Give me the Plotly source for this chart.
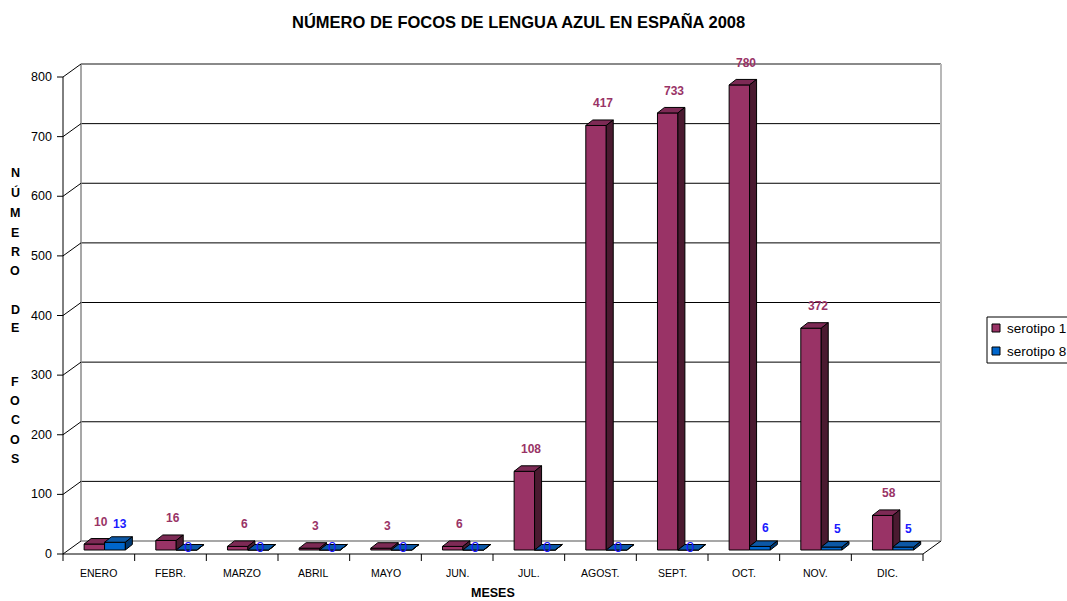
import plotly.graph_objects as go

# ---------------- data ----------------
months = ["ENERO", "FEBR.", "MARZO", "ABRIL", "MAYO", "JUN.", "JUL.",
          "AGOST.", "SEPT.", "OCT.", "NOV.", "DIC."]
serotipo1 = [10, 16, 6, 3, 3, 6, 132, 712, 733, 780, 372, 58]      # bar heights as drawn
serotipo8 = [13, 0, 0, 0, 0, 0, 0, 0, 0, 6, 5, 5]
labels1 = ["10", "16", "6", "3", "3", "6", "108", "417", "733", "780", "372", "58"]
labels8 = ["13", "0", "0", "0", "0", "0", "0", "0", "0", "6", "5", "5"]
y_ticks = [0, 100, 200, 300, 400, 500, 600, 700, 800]
series_names = ["serotipo 1", "serotipo 8"]

# ---------------- styling / geometry ----------------
FIG_W, FIG_H = 1067, 601
PX_X0 = 63.0          # pixel of left edge of first category (front)
W = 71.667            # pixels per category
PX_Y0 = 554.0         # pixel of value 0 (front)
S = 0.59625           # pixels per unit
DX = 18 / W           # back wall horizontal shift (data units)
B = 13 / S            # back wall vertical shift
B0 = 4 / S            # bar base (bars sit mid-depth)
DDX = 7 / W           # bar depth x
DDY = 5.5 / S         # bar depth y
R_OFF, R_W = -0.205, 0.285
B_OFF, B_W = 0.08, 0.29

RED, RED_TOP, RED_SIDE = "#993366", "#7d2a55", "#4a1a30"
BLU, BLU_TOP, BLU_SIDE = "#0066cc", "#0c58a6", "#003a75"
FONT = "Liberation Sans, Arial, sans-serif"

x_range = [-0.5 - PX_X0 / W, -0.5 + (FIG_W - PX_X0) / W]
y_range = [-(FIG_H - PX_Y0) / S, PX_Y0 / S]

n = len(months)
xs = list(range(n))

fig = go.Figure()

# front faces
fig.add_trace(go.Bar(x=xs, y=serotipo1, base=B0, offset=R_OFF, width=R_W,
                     marker=dict(color=RED, line=dict(color="black", width=1)),
                     name=series_names[0], showlegend=False, hoverinfo="skip"))
fig.add_trace(go.Bar(x=xs, y=serotipo8, base=B0, offset=B_OFF, width=B_W,
                     marker=dict(color=BLU, line=dict(color="black", width=1)),
                     name=series_names[1], showlegend=False, hoverinfo="skip"))

# top & side faces (computed from the data)
def poly_add(px, py, pts):
    for (a, b) in pts:
        px.append(a)
        py.append(b)
    px.append(pts[0][0]); py.append(pts[0][1])
    px.append(None); py.append(None)

rt_x, rt_y, rs_x, rs_y, bt_x, bt_y, bs_x, bs_y = ([] for _ in range(8))
for i in xs:
    vr, vb = serotipo1[i], serotipo8[i]
    xl, xr = i + R_OFF, i + R_OFF + R_W
    t = B0 + vr
    tb = B0 + vb
    # red top (clipped where the blue bar is in front)
    if tb > t:
        if tb < t + DDY:
            f = (tb - t) / DDY
            pts = [(xl, t), (xr, t), (xr, tb), (xr + DDX * f, tb),
                   (xr + DDX, t + DDY), (xl + DDX, t + DDY)]
        else:
            pts = [(xl, t), (xr, t), (xr, t + DDY), (xl + DDX, t + DDY)]
    else:
        pts = [(xl, t), (xr, t), (xr + DDX, t + DDY), (xl + DDX, t + DDY)]
    poly_add(rt_x, rt_y, pts)
    # red side (visible above blue bar)
    if vr > vb:
        lo = tb
        poly_add(rs_x, rs_y, [(xr, lo), (xr, t), (xr + DDX, t + DDY), (xr + DDX, lo + DDY)])
    # blue
    bl, br = i + B_OFF, i + B_OFF + B_W
    poly_add(bt_x, bt_y, [(bl, tb), (br, tb), (br + DDX, tb + DDY), (bl + DDX, tb + DDY)])
    poly_add(bs_x, bs_y, [(br, B0), (br, tb), (br + DDX, tb + DDY), (br + DDX, B0 + DDY)])

for fx, fy, col in [(rt_x, rt_y, RED_TOP), (rs_x, rs_y, RED_SIDE),
                    (bt_x, bt_y, BLU_TOP), (bs_x, bs_y, BLU_SIDE)]:
    fig.add_trace(go.Scatter(x=fx, y=fy, mode="lines", fill="toself", fillcolor=col,
                             line=dict(color="black", width=1), showlegend=False,
                             hoverinfo="skip"))

# ---------------- walls, floor, axes ----------------
shapes = []
def line(x0, y0, x1, y1, color="black", width=1, layer="below"):
    shapes.append(dict(type="line", xref="x", yref="y", x0=x0, y0=y0, x1=x1, y1=y1,
                       line=dict(color=color, width=width), layer=layer))

xl_back, xr_back = -0.5 + DX, n - 0.5 + DX
for v in y_ticks[1:-1]:
    line(xl_back, v + B, xr_back, v + B, "black", 1)
line(xl_back, y_ticks[-1] + B, xr_back, y_ticks[-1] + B, "#8a8a8a", 2)
line(xl_back, B, xr_back, B, "#8a8a8a", 1.5)
line(xl_back, B, xl_back, y_ticks[-1] + B, "#8a8a8a", 1.5)
line(xr_back, B, xr_back, y_ticks[-1] + B, "#b8b8b8", 2)
for v in y_ticks:
    line(-0.5, v, xl_back, v + B, "black", 1)
    line(-0.5 - 6 / W, v, -0.5, v, "black", 1)
line(-0.5, 0, -0.5, y_ticks[-1], "black", 1)
line(-0.5, 0, n - 0.5, 0, "black", 1)
line(n - 0.5, 0, xr_back, B, "black", 1)
for k in range(n + 1):
    line(k - 0.5, 0, k - 0.5, -7 / S, "black", 1)

# legend (drawn manually to match the original box)
def pxx(p): return p / FIG_W
def pxy(p): return 1 - p / FIG_H
shapes.append(dict(type="rect", xref="paper", yref="paper", x0=pxx(987), x1=pxx(1080),
                   y0=pxy(363), y1=pxy(317), line=dict(color="black", width=1),
                   fillcolor="white", layer="above"))
leg_cols = [RED, BLU]
leg_y = [328, 351]
for c, yy in zip(leg_cols, leg_y):
    shapes.append(dict(type="rect", xref="paper", yref="paper", x0=pxx(992), x1=pxx(1000),
                       y0=pxy(yy + 4), y1=pxy(yy - 4), line=dict(color="black", width=1),
                       fillcolor=c, layer="above"))

annotations = []
# y tick labels
for v in y_ticks:
    annotations.append(dict(x=-0.5, y=v, xref="x", yref="y", text=str(v), showarrow=False,
                            xanchor="right", yanchor="middle", xshift=-9,
                            font=dict(family=FONT, size=12.5, color="black")))
# x tick labels
for i, m in enumerate(months):
    annotations.append(dict(x=i, y=0, xref="x", yref="y", text=m, showarrow=False,
                            xanchor="center", yanchor="middle", yshift=-19,
                            font=dict(family=FONT, size=10.5, color="black")))
# data labels
for i in xs:
    annotations.append(dict(x=i + 0.03, y=B0 + serotipo1[i], xref="x", yref="y",
                            text=labels1[i], showarrow=False, yshift=22,
                            font=dict(family=FONT, size=12, color=RED, weight="bold")))
    if serotipo8[i] == 0:
        annotations.append(dict(x=i + 0.25, y=B0 + serotipo8[i], xref="x", yref="y",
                                text=labels8[i], showarrow=False, yshift=4,
                                font=dict(family=FONT, size=15, color="#1a1aff")))
    else:
        annotations.append(dict(x=i + 0.3, y=B0 + serotipo8[i], xref="x", yref="y",
                                text=labels8[i], showarrow=False, yshift=18,
                                font=dict(family=FONT, size=12, color="#1a1aff", weight="bold")))
# legend texts
for name, yy in zip(series_names, leg_y):
    annotations.append(dict(x=pxx(1005), y=pxy(yy), xref="paper", yref="paper", text=name,
                            showarrow=False, xanchor="left", yanchor="middle",
                            font=dict(family=FONT, size=13.5, color="black")))
# titles
annotations.append(dict(x=pxx(518.5), y=pxy(22), xref="paper", yref="paper",
                        text="NÚMERO DE FOCOS DE LENGUA AZUL EN ESPAÑA 2008", showarrow=False,
                        xanchor="center", yanchor="middle",
                        font=dict(family=FONT, size=16.5, color="black", weight="bold")))
annotations.append(dict(x=pxx(493), y=pxy(593), xref="paper", yref="paper", text="MESES",
                        showarrow=False, xanchor="center", yanchor="middle",
                        font=dict(family=FONT, size=12.5, color="black", weight="bold")))
ytitle = ["N", "Ú", "M", "E", "R", "O", "D", "E", "F", "O", "C", "O", "S"]
ytitle_px = [173, 193, 213, 233, 252, 271, 310, 328, 382, 401, 420, 440, 459]
for ch, yy in zip(ytitle, ytitle_px):
    annotations.append(dict(x=pxx(15), y=pxy(yy), xref="paper", yref="paper", text=ch,
                            showarrow=False, xanchor="center", yanchor="middle",
                            font=dict(family=FONT, size=12.5, color="black", weight="bold")))

fig.update_layout(
    width=FIG_W, height=FIG_H, autosize=False,
    margin=dict(l=0, r=0, t=0, b=0, pad=0),
    paper_bgcolor="white", plot_bgcolor="white",
    xaxis=dict(visible=False, range=x_range, fixedrange=True),
    yaxis=dict(visible=False, range=y_range, fixedrange=True),
    shapes=shapes, annotations=annotations, showlegend=False,
    barmode="overlay",
)

fig.write_html("out.html", config={"displayModeBar": False},
               post_script="document.body.style.margin='0px';document.body.style.overflow='hidden';")
